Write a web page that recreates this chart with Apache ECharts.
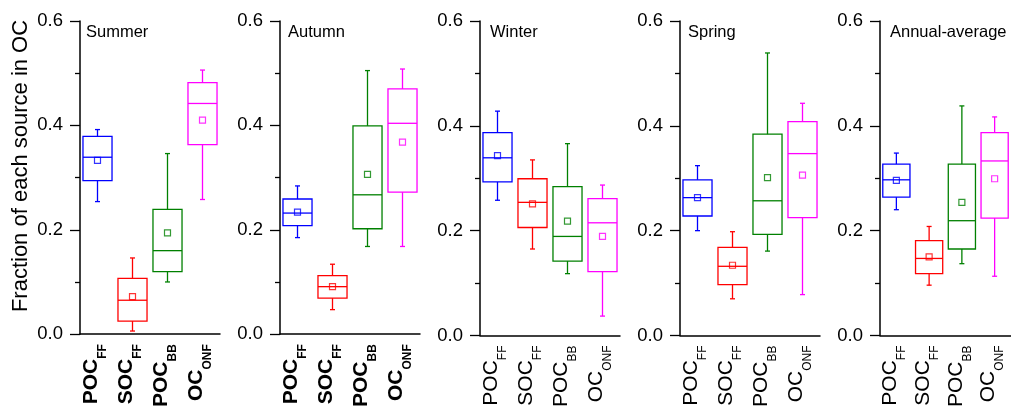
<!DOCTYPE html>
<html>
<head>
<meta charset="utf-8">
<script src="https://cdn.jsdelivr.net/npm/echarts@6/dist/echarts.min.js"></script>
<style>
html, body { margin: 0; padding: 0; background: #fff; }
#chart { width: 1011px; height: 410px; }
</style>
</head>
<body>
<div id="chart"></div>
<script>
// categories and label parts
var categories = ['POC_FF', 'SOC_FF', 'POC_BB', 'OC_ONF'];
var labelMain = ['POC', 'SOC', 'POC', 'OC'];
var labelSub = ['FF', 'FF', 'BB', 'ONF'];
var seasons = ['Summer', 'Autumn', 'Winter', 'Spring', 'Annual-average'];

// box values per season: [low whisker, Q1, median, Q3, high whisker]
var summerBox = [[0.254, 0.294, 0.339, 0.379, 0.392], [0.006, 0.025, 0.065, 0.107, 0.146], [0.100, 0.120, 0.160, 0.239, 0.346], [0.258, 0.363, 0.442, 0.482, 0.506]];
var autumnBox = [[0.185, 0.208, 0.232, 0.259, 0.284], [0.047, 0.069, 0.091, 0.112, 0.134], [0.168, 0.202, 0.267, 0.399, 0.505], [0.168, 0.272, 0.404, 0.470, 0.508]];
var winterBox = [[0.258, 0.293, 0.339, 0.387, 0.428], [0.165, 0.206, 0.254, 0.299, 0.335], [0.118, 0.142, 0.189, 0.284, 0.366], [0.037, 0.122, 0.215, 0.261, 0.287]];
var springBox = [[0.200, 0.228, 0.263, 0.297, 0.324], [0.070, 0.097, 0.132, 0.168, 0.198], [0.161, 0.193, 0.257, 0.384, 0.539], [0.078, 0.225, 0.347, 0.408, 0.443]];
var annualBox = [[0.240, 0.264, 0.297, 0.327, 0.348], [0.096, 0.118, 0.147, 0.181, 0.208], [0.137, 0.165, 0.219, 0.327, 0.438], [0.113, 0.224, 0.333, 0.387, 0.417]];

// mean values per season
var summerMean = [0.333, 0.072, 0.194, 0.410];
var autumnMean = [0.234, 0.091, 0.306, 0.368];
var winterMean = [0.343, 0.251, 0.218, 0.189];
var springMean = [0.263, 0.134, 0.301, 0.306];
var annualMean = [0.296, 0.150, 0.254, 0.299];

var boxes = [summerBox, autumnBox, winterBox, springBox, annualBox];
var means = [summerMean, autumnMean, winterMean, springMean, annualMean];
var colors = ['#0000ff', '#ff0000', '#008000', '#ff00ff'];
var boldLabels = [true, true, false, false, false];
var titleLeft = [86, 288, 490, 688, 890];

var font = '"Liberation Sans", Arial, sans-serif';
var myChart = echarts.init(document.getElementById('chart'));

function renderBox(params, api) {
    var i = api.value(0);
    var lo = api.coord([i, api.value(1)]);
    var q1 = api.coord([i, api.value(2)]);
    var md = api.coord([i, api.value(3)]);
    var q3 = api.coord([i, api.value(4)]);
    var hi = api.coord([i, api.value(5)]);
    var cx = lo[0];
    var hw = api.size([1, 0])[0] * 0.415;
    var cap = 2.5;
    var style = { stroke: colors[i], lineWidth: 1.3, fill: null };
    return {
        type: 'group',
        children: [
            { type: 'rect', shape: { x: cx - hw, y: q3[1], width: hw * 2, height: q1[1] - q3[1] }, style: style },
            { type: 'line', shape: { x1: cx - hw, y1: md[1], x2: cx + hw, y2: md[1] }, style: style },
            { type: 'line', shape: { x1: cx, y1: q3[1], x2: cx, y2: hi[1] }, style: style },
            { type: 'line', shape: { x1: cx, y1: q1[1], x2: cx, y2: lo[1] }, style: style },
            { type: 'line', shape: { x1: cx - cap, y1: hi[1], x2: cx + cap, y2: hi[1] }, style: style },
            { type: 'line', shape: { x1: cx - cap, y1: lo[1], x2: cx + cap, y2: lo[1] }, style: style }
        ]
    };
}

var grids = [], xAxes = [], yAxes = [], series = [], titles = [];
seasons.forEach(function (name, k) {
    grids.push({ left: 80 + 200 * k, top: 21, width: 140, height: 316 });
    titles.push({
        text: name, left: titleLeft[k], top: 24, padding: 0,
        textStyle: { fontSize: 16.5, fontWeight: 'normal', color: '#000', fontFamily: font }
    });
    var w = boldLabels[k] ? 'bold' : 'normal';
    xAxes.push({
        type: 'category', gridIndex: k, data: categories,
        axisLine: { lineStyle: { color: '#000', width: 1.5 } },
        axisTick: { alignWithLabel: true, length: 5, lineStyle: { color: '#000', width: 1.3 } },
        axisLabel: {
            interval: 0, rotate: 90, margin: 10, padding: [0, 0, 5, 0],
            formatter: function (v, idx) { return '{m|' + labelMain[idx] + '}{s|' + labelSub[idx] + '}'; },
            rich: {
                m: { fontSize: 21, fontWeight: w, color: '#000', fontFamily: font, lineHeight: 21, verticalAlign: 'top' },
                s: { fontSize: 12, fontWeight: w, color: '#000', fontFamily: font, lineHeight: 28, verticalAlign: 'bottom' }
            }
        },
        splitLine: { show: false }
    });
    yAxes.push({
        type: 'value', gridIndex: k, min: 0, max: 0.6, interval: 0.2,
        axisLine: { show: true, lineStyle: { color: '#000', width: 1.5 } },
        axisTick: { show: true, length: 10, lineStyle: { color: '#000', width: 1.3 } },
        minorTick: { show: true, splitNumber: 2, length: 5, lineStyle: { color: '#000', width: 1.3 } },
        axisLabel: {
            margin: 17, fontSize: 18.5, color: '#000', fontFamily: font,
            formatter: function (v) { return v.toFixed(1); }
        },
        splitLine: { show: false }
    });
    series.push({
        type: 'custom', xAxisIndex: k, yAxisIndex: k,
        renderItem: renderBox,
        encode: { x: 0, y: [1, 2, 3, 4, 5] },
        data: boxes[k].map(function (b, i) { return [i].concat(b); }),
        silent: true
    });
    series.push({
        type: 'scatter', xAxisIndex: k, yAxisIndex: k,
        symbol: 'rect', symbolSize: 6,
        data: means[k].map(function (m, i) {
            return { value: [i, m], itemStyle: { color: 'rgba(0,0,0,0)', borderColor: colors[i], borderWidth: 1.2 } };
        }),
        silent: true
    });
});

var option = {
    animation: false,
    title: titles,
    grid: grids,
    xAxis: xAxes,
    yAxis: yAxes,
    series: series,
    graphic: [{
        type: 'text', x: 21, y: 166, rotation: Math.PI / 2,
        style: {
            text: 'Fraction of each source in OC', fill: '#000',
            font: '22px ' + font, textAlign: 'center', textVerticalAlign: 'middle'
        }
    }]
};
myChart.setOption(option);
</script>
</body>
</html>
